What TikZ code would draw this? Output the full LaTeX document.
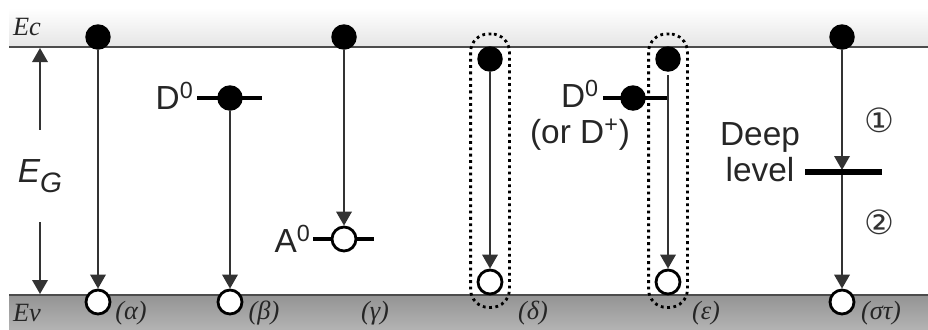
\documentclass[tikz,border=0pt]{standalone}
\usepackage{fontspec}
\setmainfont{Liberation Sans}
\newfontfamily\labfont{Liberation Serif}
\newfontfamily\symfont{DejaVu Sans}
\usetikzlibrary{positioning,arrows.meta,fit}

\begin{document}
\begin{tikzpicture}[
    x=0.02cm, y=-0.02cm,
    band/.style={draw=black!70, line width=1.1pt},
    elec/.style={circle, fill=black, inner sep=0pt, minimum size=5.1mm},
    hole/.style={circle, draw=black, fill=white, line width=1.6pt, inner sep=0pt, minimum size=4.8mm},
    trans/.style={draw=black!80, line width=1.1pt, -{Triangle[length=2.8mm,width=3.1mm]}},
    lvl/.style={draw=black, line width=1.9pt},
    deep/.style={draw=black, line width=3.6pt},
    pair/.style={draw=black, line width=1.6pt, dash pattern=on 1.6pt off 2pt,
        rounded corners=3.6mm, inner xsep=1.2mm, inner ysep=2.4mm},
    txt/.style={font=\fontsize{19}{20.5}\selectfont, text=black!85, inner sep=0pt},
    tag/.style={font=\labfont\itshape\fontsize{15}{16}\selectfont, text=black!85, inner sep=0pt},
    num/.style={font=\symfont\fontsize{19}{20}\selectfont, text=black!80, inner sep=0pt}
]

\useasboundingbox (0,0) rectangle (928,329);
\shade[top color=white, bottom color=black!10] (9,8) rectangle (928,47);
\shade[top color=black!42, bottom color=black!30] (9,295) rectangle (928,329);
\draw[band] (9,47) -- (928,47);
\draw[band] (9,295) -- (928,295);

\node[tag] (ec) at (27,27) {Ec};
\node[tag] (ev) at (27,313) {Ev};

\node[txt, minimum height=1.84cm] (eg) at (40,176) {\itshape E\raisebox{-0.3em}{\fontsize{16}{16}\selectfont G}};
\coordinate (gtop) at (40,48);
\coordinate (gbot) at (40,294);
\draw[trans] (eg) -- (gtop);
\draw[trans] (eg) -- (gbot);

\node[elec] (e1) at (98,37) {};
\node[hole] (h1) at (98,302) {};
\draw[trans] (e1) -- (h1);
\node[tag] (t1) at (131,313) {(α)};

\draw[lvl] (197,98) -- (262,98);
\node[elec] (e2) at (230,98) {};
\node[txt, anchor=east] (d2) at (194,96) {D\textsuperscript{0}};
\node[hole] (h2) at (230,302) {};
\draw[trans] (e2) -- (h2);
\node[tag] (t2) at (264,313) {(β)};

\node[elec] (e3) at (344,37) {};
\draw[lvl] (313,239) -- (374,239);
\node[hole] (h3) at (344,239) {};
\node[txt, anchor=east] (a3) at (311,239) {A\textsuperscript{0}};
\draw[trans] (e3) -- (h3);
\node[tag] (t3) at (375,313) {(γ)};

\node[elec] (e4) at (490,59) {};
\node[hole] (h4) at (490,282) {};
\draw[trans] (e4) -- (h4);
\node[pair, fit=(e4)(h4)] (p4) {};
\node[tag] (t4) at (533,313) {(δ)};

\draw[lvl] (603,98) -- (668,98);
\node[elec] (d5) at (633,98) {};
\node[txt, align=center] (d5t) at (580,115) {D\textsuperscript{0}\\(or D\textsuperscript{+})};
\node[elec] (e5) at (668,59) {};
\coordinate (s5) at (668,75);
\node[hole] (h5) at (668,282) {};
\draw[trans] (s5) -- (h5);
\node[pair, fit=(e5)(h5)] (p5) {};
\node[tag] (t5) at (706,313) {(ε)};

\node[elec] (e6) at (842,37) {};
\coordinate (dl) at (842,170);
\node[hole] (h6) at (842,302) {};
\draw[trans] (e6) -- (dl);
\draw[trans] (dl) -- (h6);
\draw[deep] (805,172) -- (882,172);
\node[txt, align=center] (dlt) at (760,152) {Deep\\level};
\node[num] (n1) at (879,120) {①};
\node[num] (n2) at (879,222) {②};
\node[tag] (t6) at (881,313) {(στ)};

\end{tikzpicture}
\end{document}
